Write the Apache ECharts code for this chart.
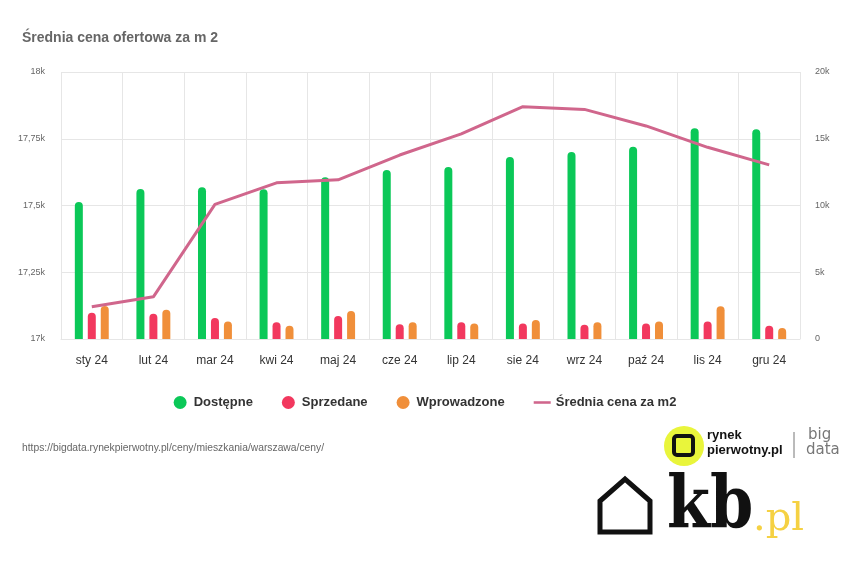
<!DOCTYPE html>
<html><head><meta charset="utf-8">
<script src="https://cdn.jsdelivr.net/npm/echarts@6/dist/echarts.min.js"></script>
<style>html,body{margin:0;padding:0;background:#fff}#c{width:850px;height:573px}</style>
</head><body><div id="c"></div>
<script>
const categories = ['sty 24','lut 24','mar 24','kwi 24','maj 24','cze 24','lip 24','sie 24','wrz 24','paź 24','lis 24','gru 24'];
const dostepne = [10260, 11240, 11360, 11210, 12110, 12660, 12880, 13630, 14010, 14400, 15780, 15710];
const sprzedane = [1970, 1900, 1570, 1250, 1720, 1100, 1250, 1170, 1070, 1170, 1320, 1000];
const wprowadzone = [2470, 2200, 1320, 1000, 2100, 1250, 1170, 1420, 1250, 1320, 2450, 820];
const srednia = [17121, 17158, 17504, 17585, 17596, 17689, 17768, 17870, 17860, 17798, 17718, 17652];
const leftTicks = {17000:'17k',17250:'17,25k',17500:'17,5k',17750:'17,75k',18000:'18k'};
const rightTicks = {0:'0',5000:'5k',10000:'10k',15000:'15k',20000:'20k'};

const FONT = "'Liberation Sans', Arial, sans-serif";
const chart = echarts.init(document.getElementById('c'), null, {renderer:'canvas'});
const barR = [4,4,0,0];
chart.setOption({
  animation:false,
  textStyle:{fontFamily:FONT},
  title:{text:'Średnia cena ofertowa za m 2', left:17, top:26,
    textStyle:{fontFamily:FONT, fontSize:14, fontWeight:'bold', color:'#666'}},
  grid:{left:61, right:50, top:72, bottom:234},
  legend:{
    top:391, left:'center', itemGap:29, itemWidth:17, itemHeight:13,
    textStyle:{fontFamily:FONT, fontSize:13, fontWeight:'bold', color:'#333'},
    data:[
      {name:'Dostępne', icon:'circle'},
      {name:'Sprzedane', icon:'circle'},
      {name:'Wprowadzone', icon:'circle'},
      {name:'Średnia cena za m2', icon:'path://M0,0 L20,0 L20,3 L0,3 Z'}
    ]
  },
  xAxis:{type:'category', data:categories, boundaryGap:true,
    axisLine:{lineStyle:{color:'#e6e6e6'}}, axisTick:{show:false},
    splitLine:{show:true, lineStyle:{color:'#e6e6e6'}},
    axisLabel:{fontFamily:FONT, fontSize:12, color:'#333', margin:16}},
  yAxis:[
    {type:'value', min:17000, max:18000, interval:250, position:'left',
     axisLine:{show:false}, axisTick:{show:false},
     splitLine:{lineStyle:{color:'#e6e6e6'}},
     axisLabel:{fontFamily:FONT, fontSize:9, color:'#666', margin:16,
       formatter:v=>leftTicks[v]!==undefined?leftTicks[v]:''}},
    {type:'value', min:0, max:20000, interval:5000, position:'right',
     axisLine:{show:false}, axisTick:{show:false}, splitLine:{show:false},
     axisLabel:{fontFamily:FONT, fontSize:9, color:'#666', margin:15,
       formatter:v=>rightTicks[v]!==undefined?rightTicks[v]:''}}
  ],
  series:[
    {name:'Dostępne', type:'bar', yAxisIndex:1, data:dostepne, barWidth:8, barGap:'62%',
     itemStyle:{color:'#0bc858', borderRadius:barR}},
    {name:'Sprzedane', type:'bar', yAxisIndex:1, data:sprzedane, barWidth:8, barGap:'62%',
     itemStyle:{color:'#f2385e', borderRadius:barR}},
    {name:'Wprowadzone', type:'bar', yAxisIndex:1, data:wprowadzone, barWidth:8, barGap:'62%',
     itemStyle:{color:'#f08f3a', borderRadius:barR}},
    {name:'Średnia cena za m2', type:'line', yAxisIndex:0, data:srednia, showSymbol:false, symbol:'none',
     lineStyle:{color:'#d0668c', width:3}, itemStyle:{color:'#d0668c'}, z:5}
  ],
  graphic:[
    {type:'text', left:22, top:443, style:{text:'https://bigdata.rynekpierwotny.pl/ceny/mieszkania/warszawa/ceny/', font:'10.3px '+FONT, fill:'#666'}},
    {type:'circle', shape:{cx:684, cy:446, r:20}, style:{fill:'#e9f53b'}},
    {type:'rect', shape:{x:674, y:436, width:19, height:19, r:3}, style:{fill:'none', stroke:'#111', lineWidth:4}},
    {type:'text', left:707, top:429, style:{text:'rynek', font:'bold 13px '+FONT, fill:'#111'}},
    {type:'text', left:707, top:444, style:{text:'pierwotny.pl', font:'bold 13px '+FONT, fill:'#111'}},
    {type:'line', shape:{x1:794, y1:432, x2:794, y2:458}, style:{stroke:'#777', lineWidth:1}},
    {type:'text', left:808, top:428, style:{text:'big', font:'15px "DejaVu Sans ExtraLight", "DejaVu Sans", sans-serif', fill:'#777'}},
    {type:'text', left:806, top:443, style:{text:'data', font:'15px "DejaVu Sans ExtraLight", "DejaVu Sans", sans-serif', fill:'#777'}},
    {type:'polygon', shape:{points:[[600,532],[600,501],[625,479],[650,501],[650,532]]}, style:{fill:'none', stroke:'#111', lineWidth:5}},
    {type:'text', x:667, y:473, scaleX:0.86, style:{text:'kb', font:'bold 72px "DejaVu Serif", serif', fill:'#111'}},
    {type:'text', x:753, y:500, style:{text:'.pl', font:'40px "DejaVu Serif", serif', fill:'#f5d143'}}
  ]
});
</script></body></html>
